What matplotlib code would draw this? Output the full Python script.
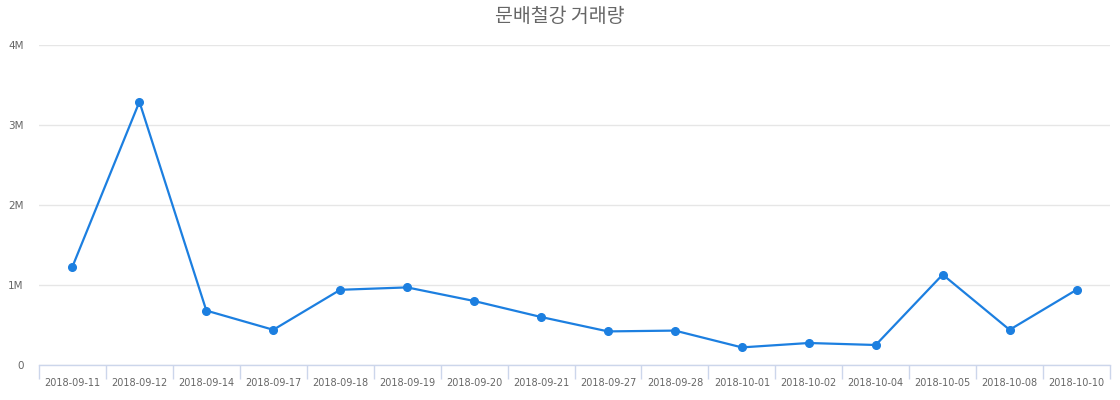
import matplotlib
matplotlib.use("Agg")
import matplotlib.pyplot as plt
from matplotlib.ticker import FuncFormatter, FixedLocator

dates = ["2018-09-11", "2018-09-12", "2018-09-14", "2018-09-17", "2018-09-18",
         "2018-09-19", "2018-09-20", "2018-09-21", "2018-09-27", "2018-09-28",
         "2018-10-01", "2018-10-02", "2018-10-04", "2018-10-05", "2018-10-08",
         "2018-10-10"]
volume = [1230000, 3290000, 680000, 440000, 940000, 970000, 800000, 600000,
          420000, 430000, 220000, 275000, 250000, 1130000, 440000, 940000]
title = "문배철강 거래량"
yticks = [0, 1000000, 2000000, 3000000, 4000000]

fig = plt.figure(figsize=(11.2, 4.0), dpi=100)
ax = fig.add_axes([39/1120, 35/400, (1110-39)/1120, 320/400])

x = list(range(len(dates)))
ax.plot(x, volume, color="#1c7fe0", linewidth=1.6, marker="o", markersize=5.5,
        markerfacecolor="#1c7fe0", markeredgecolor="#1c7fe0", zorder=3,
        clip_on=False)

ax.set_xlim(-0.5, len(dates) - 0.5)
ax.set_ylim(0, 4000000)

ax.set_yticks(yticks)
ax.yaxis.set_major_formatter(FuncFormatter(lambda v, p: "0" if v == 0 else f"{int(v/1e6)}M"))
ax.tick_params(axis="y", length=0, labelsize=7.5, labelcolor="#666666", pad=11)
ax.grid(axis="y", color="#e6e6e6", linewidth=1)
ax.set_axisbelow(True)

ax.set_xticks(x)
ax.set_xticklabels(dates)
ax.tick_params(axis="x", which="major", length=0, labelsize=7, labelcolor="#666666", pad=9)
ax.xaxis.set_minor_locator(FixedLocator([i - 0.5 for i in range(len(dates) + 1)]))
ax.tick_params(axis="x", which="minor", length=10, width=1, color="#ccd6eb")

for s in ["top", "right", "left"]:
    ax.spines[s].set_visible(False)
ax.spines["bottom"].set_color("#ccd6eb")
ax.spines["bottom"].set_linewidth(1)

fig.text(0.5, 1 - 17/400, title, ha="center", va="center", fontsize=14,
         color="#666666", family=["Noto Sans CJK KR", "DejaVu Sans"])

fig.savefig("out.png", dpi=100, facecolor="white")
